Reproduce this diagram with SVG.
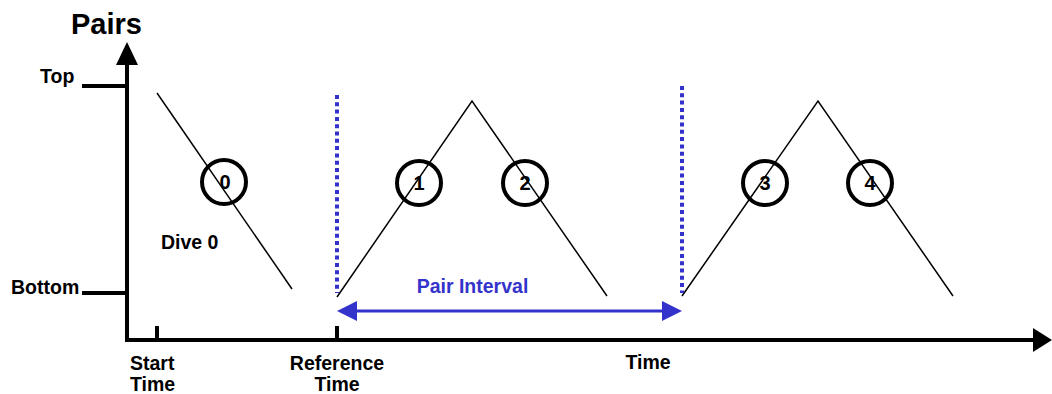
<svg xmlns="http://www.w3.org/2000/svg" width="1052" height="394" viewBox="0 0 1052 394">
  <style>
    text { font-family: "Liberation Sans", Arial, sans-serif; font-weight: bold; fill: #000; }
    .lbl { font-size: 19.5px; }
    .axis { stroke: #000; stroke-width: 4; fill: none; }
    .trace { stroke: #000; stroke-width: 1.5; fill: none; }
    .mark { stroke: #3333cc; stroke-width: 4; stroke-dasharray: 4 3.3; fill: none; }
    .ring { stroke: #000; stroke-width: 4; fill: none; }
    .num { font-size: 20px; text-anchor: middle; }
  </style>
  <defs>
    <marker id="blueHead" markerWidth="20" markerHeight="20" refX="0" refY="10" orient="auto-start-reverse" markerUnits="userSpaceOnUse">
      <path d="M0,0 L20,10 L0,20 Z" fill="#3333cc"/>
    </marker>
  </defs>

  <g id="axes">
    <polyline class="axis" points="127,62 127,340 1036,340"/>
    <path d="M116,65 L127,42 L138,65 Z" fill="#000"/>
    <path d="M1033,328 L1052,340 L1033,352 Z" fill="#000"/>
    <line class="axis" x1="82" y1="86" x2="127" y2="86"/>
    <line class="axis" x1="82" y1="293" x2="127" y2="293"/>
    <line class="axis" x1="157" y1="326" x2="157" y2="340"/>
    <line class="axis" x1="337" y1="326" x2="337" y2="340"/>
    <text x="71" y="34" font-size="29">Pairs</text>
    <text class="lbl" x="40" y="83">Top</text>
    <text class="lbl" x="11" y="294">Bottom</text>
    <text class="lbl" x="130" y="370">Start</text>
    <text class="lbl" x="130" y="391">Time</text>
    <text class="lbl" x="337" y="370" text-anchor="middle">Reference</text>
    <text class="lbl" x="337" y="391" text-anchor="middle">Time</text>
    <text class="lbl" x="648" y="369" text-anchor="middle">Time</text>
  </g>

  <g id="connectors">
    <line class="trace" x1="157" y1="93" x2="292" y2="289"/>
    <polyline class="trace" points="337,297 472,101 607,296"/>
    <polyline class="trace" points="682,296 818,101 953,296"/>
    <line class="mark" x1="337" y1="95" x2="337" y2="293"/>
    <line class="mark" x1="682" y1="86" x2="682" y2="293"/>
    <line x1="357" y1="311" x2="662" y2="311" stroke="#3333cc" stroke-width="3" marker-start="url(#blueHead)" marker-end="url(#blueHead)"/>
  </g>

  <g id="dive0">
    <circle class="ring" cx="224" cy="182" r="22"/>
    <text class="num" x="225" y="189">0</text>
    <text class="lbl" x="161" y="249">Dive 0</text>
  </g>
  <g id="dive1">
    <circle class="ring" cx="419" cy="183" r="22"/>
    <text class="num" x="419" y="190">1</text>
  </g>
  <g id="dive2">
    <circle class="ring" cx="525" cy="183" r="22"/>
    <text class="num" x="525" y="190">2</text>
  </g>
  <g id="dive3">
    <circle class="ring" cx="765" cy="183" r="22"/>
    <text class="num" x="765" y="190">3</text>
  </g>
  <g id="dive4">
    <circle class="ring" cx="870" cy="183" r="22"/>
    <text class="num" x="870" y="190">4</text>
  </g>
  <g id="pairInterval">
    <text class="lbl" x="472.5" y="293" text-anchor="middle" style="fill:#3333cc">Pair Interval</text>
  </g>
</svg>
